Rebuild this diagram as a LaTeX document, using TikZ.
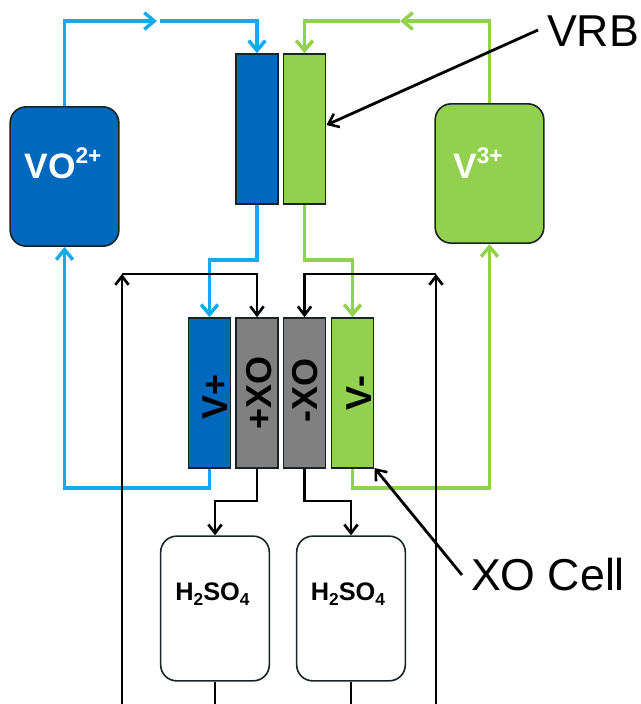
\documentclass[tikz,border=0pt]{standalone}
\usepackage{fontspec}
\setmainfont{Liberation Sans}
\usetikzlibrary{arrows.meta}
\definecolor{cblue}{RGB}{0,105,190}
\definecolor{cgreen}{RGB}{146,208,80}
\definecolor{cgray}{RGB}{128,128,128}
\definecolor{lblue}{RGB}{20,170,235}
\definecolor{lgreen}{RGB}{146,208,80}
\definecolor{edgec}{RGB}{25,35,40}
\tikzset{
  cellbox/.style={draw=edgec,line width=1.2pt,rectangle,inner sep=0pt,minimum width=31.5pt,minimum height=112.5pt},
  tank/.style={draw=edgec,line width=1.2pt,rectangle,rounded corners=12pt,inner sep=0pt,minimum width=81.5pt,minimum height=104.5pt},
  tanktall/.style={tank,minimum height=108.5pt},
  flow/.style={line width=2.7pt,-{Straight Barb[length=7.5pt,width=12.5pt,line width=2.6pt]}},
  blk/.style={line width=2.1pt,black,-{Straight Barb[length=6.5pt,width=10pt,line width=2pt]}},
  blkplain/.style={line width=2.1pt,black},
  call/.style={line width=2.1pt,black,-{Straight Barb[length=7pt,width=11pt,line width=1.9pt]}},
  big/.style={inner sep=0pt,anchor=base,font=\fontsize{33.5}{33.5}\selectfont,text=black},
  ion/.style={inner sep=0pt,anchor=base,font=\fontsize{26.5}{26.5}\selectfont\bfseries,text=white},
  vert/.style={inner sep=0pt,rotate=90,font=\fontsize{27}{27}\selectfont\bfseries,text=black},
  acid/.style={inner sep=0pt,anchor=base,font=\fontsize{19}{19}\selectfont\bfseries,text=black}
}
\newcommand{\subs}[1]{\raisebox{-0.2em}{\fontsize{13}{13}\selectfont #1}}
\newcommand{\sups}[1]{\raisebox{0.42em}{\fontsize{17}{17}\selectfont #1}}
\begin{document}
\begin{tikzpicture}[x=0.75pt,y=-0.75pt]
\useasboundingbox (0,0) rectangle (640,704);
% tanks
\node[tank,fill=cblue] (vo) at (64.5,176.5) {};
\node[tank,fill=cgreen] (vt) at (489.5,173.5) {};
\node[tanktall,fill=white] (ha) at (215,608.5) {};
\node[tanktall,fill=white] (hb) at (351,608.5) {};
% VRB stack
\node[cellbox,fill=cblue] (ra) at (257,129) {};
\node[cellbox,fill=cgreen] (rb) at (304.5,129) {};
% XO stack
\node[cellbox,fill=cblue] (vp) at (209.5,393) {};
\node[cellbox,fill=cgray] (xp) at (257,393) {};
\node[cellbox,fill=cgray] (xm) at (304.5,393) {};
\node[cellbox,fill=cgreen] (vm) at (352.5,393) {};
% labels
\node[ion] (lvo) at (63,178) {VO\sups{2+}};
\node[ion] (lvt) at (478,178) {V\sups{3+}};
\node[vert] (lvp) at (215,397) {V+};
\node[vert] (lxp) at (259,393) {+XO};
\node[vert] (lxm) at (305,390) {-XO};
\node[vert] (lvm) at (359,393) {V-};
\node[acid] (lha) at (212.5,600) {H\subs{2}SO\subs{4}};
\node[acid] (lhb) at (348,600) {H\subs{2}SO\subs{4}};
\node[big] (lvrb) at (593,46) {VRB};
\node[big] (lxo) at (548,590) {XO Cell};
% free ends
\coordinate (mb) at (157,21);
\coordinate (mbs) at (160,21);
\coordinate (mg) at (400,21);
\coordinate (lt) at (122,274);
\coordinate (rt) at (436,274);
\coordinate (lbot) at (122,704);
\coordinate (rbot) at (436,704);
\coordinate (habot) at (215,704);
\coordinate (hbbot) at (351,704);
\coordinate (vrbs) at (538,30);
\coordinate (vrbe) at (326.5,125);
\coordinate (xos) at (462,575);
\coordinate (xoe) at (374.5,468);
% blue flows
\draw[flow,lblue] (vo.north) |- (mb);
\draw[flow,lblue] (mbs) -| (ra.north);
\draw[flow,lblue] (ra.south) |- (233,260) -| (vp.north);
\draw[flow,lblue] (vp.south) |- (64.5,488) -- (vo.south);
% green flows
\draw[flow,lgreen] (vt.north) |- (mg);
\draw[flow,lgreen] (mg) -| (rb.north);
\draw[flow,lgreen] (rb.south) |- (330,260) -| (vm.north);
\draw[flow,lgreen] (vm.south) |- (489.5,488) -- (vt.south);
% black flows
\draw[blk] (lbot) -- (lt);
\draw[blk] (rbot) -- (rt);
\draw[blk] (lt) -| (xp.north);
\draw[blk] (rt) -| (xm.north);
\draw[blk] (xp.south) |- (236,501) -| (ha.north);
\draw[blk] (xm.south) |- (328,501) -| (hb.north);
\draw[blkplain] (ha.south) -- (habot);
\draw[blkplain] (hb.south) -- (hbbot);
% callouts
\draw[call] (vrbs) -- (vrbe);
\draw[call] (xos) -- (xoe);
\end{tikzpicture}
\end{document}
